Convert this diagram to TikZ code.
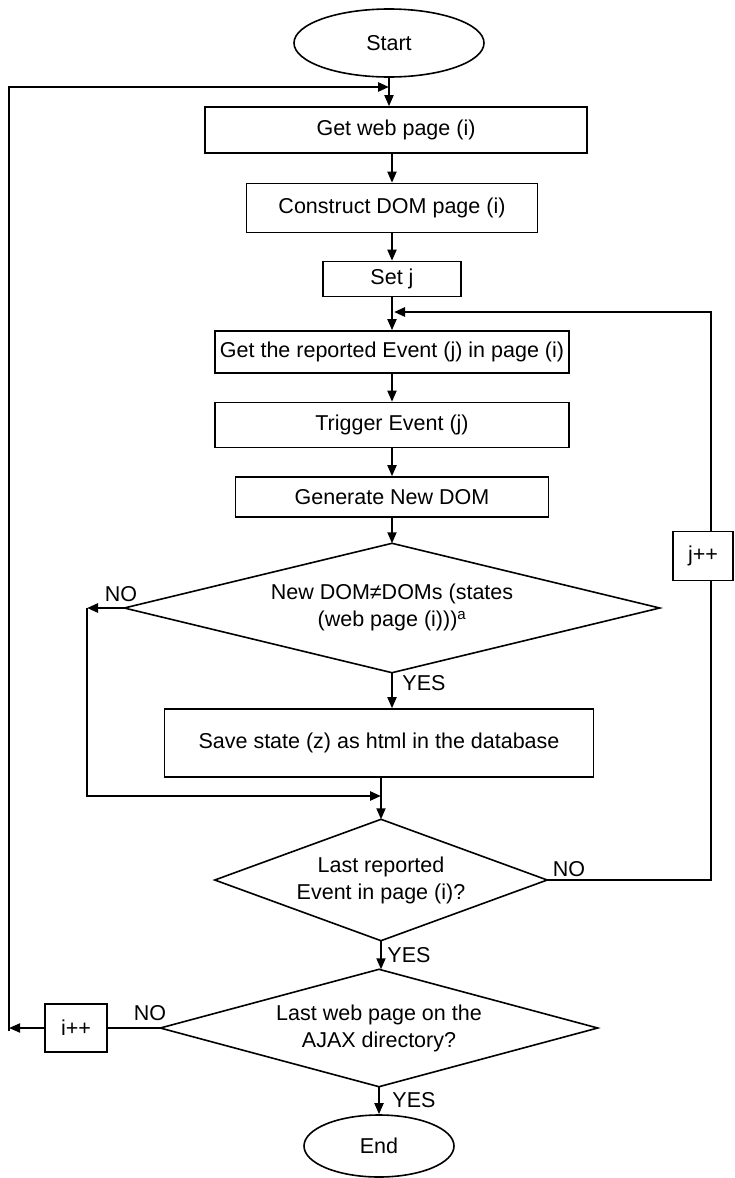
\documentclass[tikz,border=0pt]{standalone}
\usepackage{fontspec}
\setmainfont{Liberation Sans}
\usetikzlibrary{shapes.geometric,arrows.meta}
\begin{document}
\begin{tikzpicture}[x=1pt,y=-1pt,
  font=\fontsize{21.5}{27}\selectfont,
  box/.style={draw, line width=1.6pt, inner sep=0pt, align=center},
  term/.style={draw, ellipse, line width=1.6pt, inner sep=0pt},
  dec/.style={rectangle, inner sep=0pt, align=center},
  decline/.style={line width=1.6pt, line join=miter},
  arr/.style={line width=1.8pt, -{Triangle[length=11pt,width=9pt]}},
  lin/.style={line width=1.8pt},
  loopl/.style={line width=2.6pt},
  lbl/.style={inner sep=0pt}]
\useasboundingbox (0,0) rectangle (734,1178);

% nodes
\node[term, minimum width=190pt, minimum height=68pt] (start) at (389,43) {Start};
\node[box, minimum width=382pt, minimum height=46pt] (gwp) at (396,130) {Get web page (i)};
\node[box, minimum width=291pt, minimum height=49pt] (cdom) at (392,208) {Construct DOM page (i)};
\node[box, minimum width=138pt, minimum height=35pt] (setj) at (392,279) {Set j};
\node[box, minimum width=354pt, minimum height=42pt] (grep) at (392,352) {Get the reported Event (j) in page (i)};
\node[box, minimum width=354pt, minimum height=45pt] (trig) at (392,425) {Trigger Event (j)};
\node[box, minimum width=313pt, minimum height=40pt] (gen) at (392,497) {Generate New DOM};
\node[dec, minimum width=535pt, minimum height=129pt] (d1) at (392,608) {\raisebox{-6pt}{\begin{tabular}{@{}c@{}}New DOM≠DOMs (states\\(web page (i)))\textsuperscript{a}\end{tabular}}};
\node[box, minimum width=429pt, minimum height=68pt] (save) at (379,743) {Save state (z) as html in the database};
\node[dec, minimum width=332pt, minimum height=121pt] (d2) at (381,880) {Last reported\\Event in page (i)?};
\node[dec, minimum width=437pt, minimum height=117pt] (d3) at (379,1028) {Last web page on the\\AJAX directory?};
\node[term, minimum width=150pt, minimum height=62pt] (end) at (379,1146) {End};
\node[box, minimum width=62pt, minimum height=48pt] (ipp) at (76,1028) {i++};

% diamond outlines
\draw[decline] (d1.north) -- (d1.east) -- (d1.south) -- (d1.west) -- cycle;
\draw[decline] (d2.north) -- (d2.east) -- (d2.south) -- (d2.west) -- cycle;
\draw[decline] (d3.north) -- (d3.east) -- (d3.south) -- (d3.west) -- cycle;

% labels
\node[lbl] (no1) at (121,594) {NO};
\node[lbl] (yes1) at (424,683) {YES};
\node[lbl] (no2) at (569,869) {NO};
\node[lbl] (yes2) at (409,955) {YES};
\node[lbl] (no3) at (150,1013) {NO};
\node[lbl] (yes3) at (414,1100) {YES};

% helper coordinates
\coordinate (y87) at (0,87);
\coordinate (y581) at (0,581);
\coordinate (tj) at (start.south |- y87);
\coordinate (ltop) at (9,87);
\coordinate (lbot) at (9,1031);
\coordinate (lend) at (9,1028);
\coordinate (rb) at (711,880);
\coordinate (rt) at (711,312);
\coordinate (jj) at (394,312);
\coordinate (la) at (87,608);
\coordinate (lb) at (87,796);
\coordinate (mj) at (381,796);

% main flow
\draw[arr] (start.south) -- (start.south |- gwp.north);
\draw[arr] (gwp.south -| cdom.north) -- (cdom.north);
\draw[arr] (cdom.south) -- (setj.north);
\draw[arr] (setj.south) -- (grep.north);
\draw[arr] (grep.south) -- (trig.north);
\draw[arr] (trig.south) -- (gen.north);
\draw[arr] (gen.south) -- (d1.north);
\draw[arr] (d1.south) -- (d1.south |- save.north);
\draw[arr] (save.south -| d2.north) -- (d2.north);
\draw[arr] (d2.south) -- (d2.south |- d3.north);
\draw[arr] (d3.south) -- (d3.south |- end.north);

% NO branch of first decision
\draw[arr,loopl] (d1.west) -- (la);
\draw[arr,loopl] (la) -- (lb) -- (mj);

% j loop
\draw[loopl] (d2.east) -- (rb) -- (rb |- y581);
\node[box, fill=white, minimum width=60pt, minimum height=49pt] (jpp) at (703,556) {j++};
\draw[arr,loopl] (rt |- jpp.north) -- (rt) -- (jj);

% i loop
\draw[lin] (d3.west) -- (ipp.east);
\draw[arr] (ipp.west) -- (lend);
\draw[arr,loopl] (lbot) -- (ltop) -- (tj);
\end{tikzpicture}
\end{document}
